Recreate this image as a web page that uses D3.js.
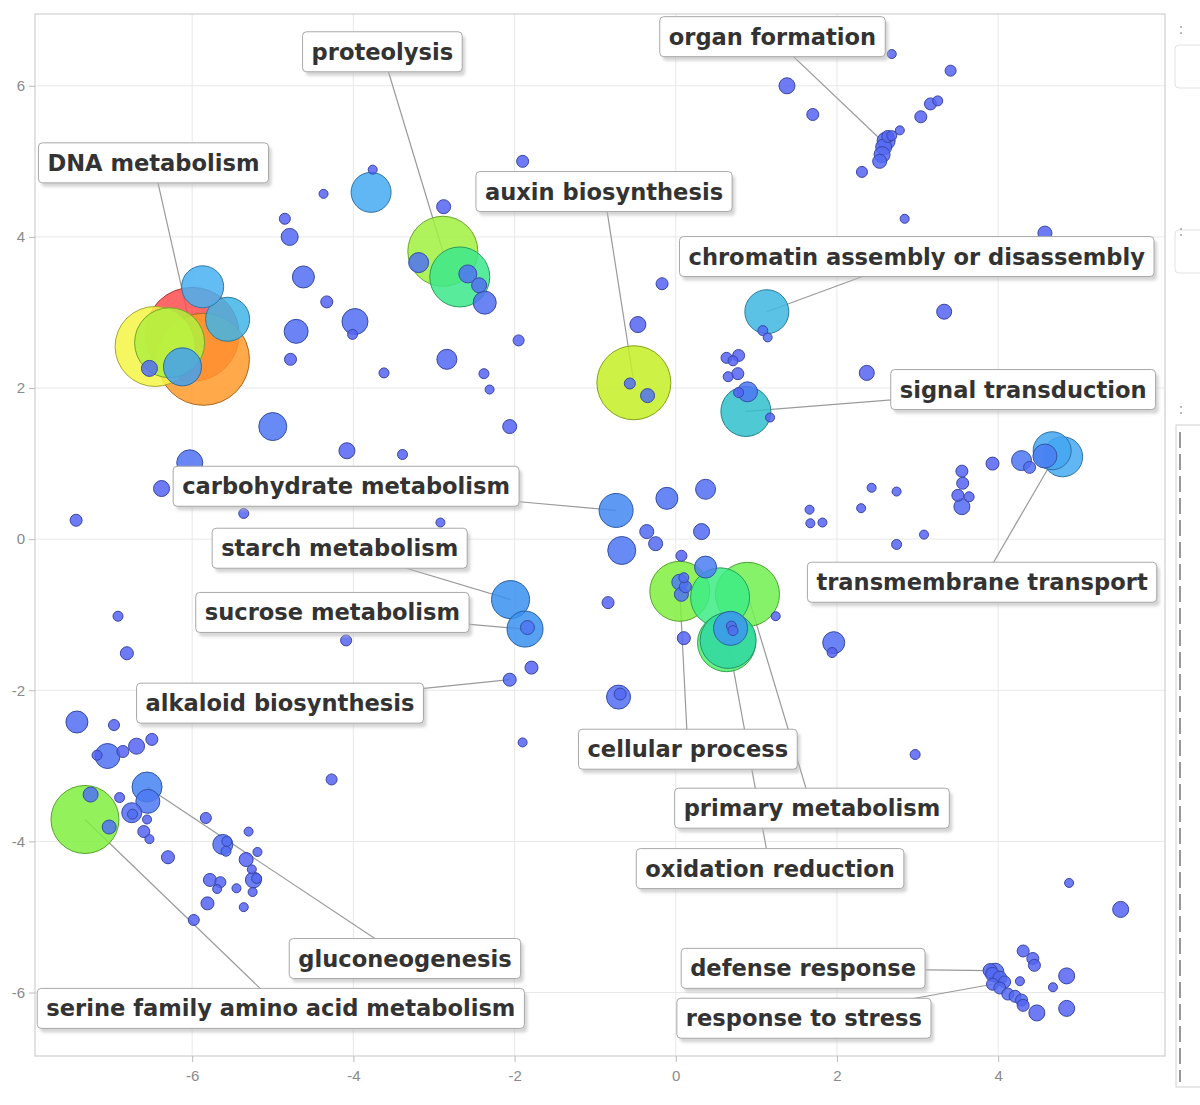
<!DOCTYPE html>
<html><head><meta charset="utf-8">
<script src="https://cdn.jsdelivr.net/npm/d3@7"></script>
<style>body{margin:0;background:#fff}</style>
</head><body>
<svg id="chart" width="1200" height="1105"></svg>
<script>
// ---- data ----
const xTicks = [-6, -4, -2, 0, 2, 4];
const yTicks = [-6, -4, -2, 0, 2, 4, 6];
const xDomain = [-7.95, 6.07];
const yDomain = [-6.84, 6.95];

// [x, y, size, colourValue]
const bubbles = [
  // DNA metabolism cluster
  [-6.00, 2.71, 47, 1], [-5.86, 2.38, 46, 0.93], [-6.46, 2.55, 40, 0.86], [-6.28, 2.60, 35, 0.72],
  [-5.87, 3.34, 21, 0.35], [-5.56, 2.91, 22, 0.37], [-6.12, 2.28, 19, 0.30], [-6.53, 2.26, 8, 0.05],
  // upper left
  [-3.78, 4.59, 20, 0.33], [-3.76, 4.89, 4.5, 0], [-4.37, 4.57, 4.5, 0], [-4.85, 4.24, 5.5, 0],
  [-4.79, 4.00, 8.5, 0.03], [-4.62, 3.47, 11, 0.05], [-4.33, 3.14, 6, 0], [-3.98, 2.88, 13, 0.05],
  [-4.01, 2.71, 5, 0], [-4.71, 2.75, 12, 0.05], [-4.78, 2.38, 6, 0], [-3.62, 2.20, 5, 0],
  [-5.00, 1.49, 14, 0.10], [-4.08, 1.17, 8, 0], [-3.39, 1.12, 5, 0], [-6.03, 1.01, 13, 0.08],
  [-6.38, 0.67, 8, 0], [-5.36, 0.34, 5, 0], [-7.44, 0.25, 6, 0],
  // proteolysis
  [-2.89, 3.81, 35, 0.70], [-2.68, 3.47, 30, 0.56], [-3.19, 3.66, 10, 0.08], [-2.58, 3.51, 9, 0.08],
  [-2.44, 3.36, 7.5, 0.05], [-2.37, 3.13, 11.5, 0.06], [-2.88, 4.40, 7, 0], [-1.90, 5.00, 6, 0],
  // auxin
  [-0.52, 2.07, 37, 0.77], [-0.57, 2.06, 5.5, 0.05], [-0.35, 1.90, 7, 0.08], [-0.47, 2.84, 8, 0],
  [-0.17, 3.38, 6, 0], [-1.95, 2.63, 5.5, 0], [-2.84, 2.38, 10, 0.03], [-2.38, 2.19, 5, 0],
  [-2.31, 1.98, 4.5, 0], [-2.06, 1.49, 7, 0],
  // chromatin / signal
  [1.13, 3.01, 22, 0.38], [1.08, 2.76, 5, 0.05], [1.14, 2.67, 4.5, 0.05],
  [0.87, 1.69, 25, 0.42], [0.89, 1.95, 10, 0.10], [0.78, 1.94, 5, 0], [1.17, 1.61, 4.5, 0],
  [0.63, 2.40, 5.5, 0], [0.71, 2.36, 5, 0], [0.78, 2.43, 6, 0], [0.65, 2.15, 5, 0], [0.77, 2.19, 6, 0],
  // carbohydrate area
  [-0.74, 0.38, 17, 0.20], [-0.11, 0.54, 11, 0.08], [0.37, 0.66, 10, 0.05], [-0.36, 0.10, 7, 0.03],
  [0.32, 0.10, 8, 0.03], [-2.92, 0.22, 4.5, 0], [-0.25, -0.06, 7, 0.03], [-0.67, -0.15, 14, 0.10],
  [0.07, -0.22, 5.5, 0],
  // top right / organ formation
  [2.68, 6.42, 4.5, 0], [3.41, 6.20, 5.5, 0], [1.38, 6.00, 8, 0], [1.70, 5.62, 6, 0],
  [3.25, 5.80, 5, 0], [3.16, 5.76, 6, 0], [3.04, 5.59, 6, 0], [2.78, 5.41, 4.5, 0],
  [2.61, 5.27, 9, 0.03], [2.63, 5.33, 6, 0.03], [2.58, 5.19, 8, 0.03], [2.56, 5.09, 8, 0.03],
  [2.53, 5.00, 7, 0.03], [2.68, 5.34, 5, 0], [2.31, 4.86, 5.5, 0], [2.84, 4.24, 4.5, 0],
  [4.58, 4.05, 7, 0], [3.33, 3.01, 7.5, 0], [2.37, 2.20, 7.5, 0],
  // transmembrane transport
  [4.80, 1.09, 20, 0.33], [4.67, 1.17, 19, 0.32], [4.58, 1.10, 12, 0.15], [4.29, 1.04, 10, 0.10],
  [4.39, 0.95, 6, 0.05], [3.93, 1.00, 6.5, 0], [3.55, 0.90, 6, 0], [3.56, 0.74, 6, 0],
  [3.50, 0.58, 6, 0], [3.64, 0.56, 5, 0], [3.55, 0.43, 8, 0.03], [2.43, 0.68, 4.5, 0],
  [2.74, 0.63, 4.5, 0], [1.66, 0.39, 4.5, 0], [2.30, 0.41, 4.5, 0], [1.67, 0.21, 4.5, 0],
  [1.82, 0.22, 4.5, 0], [3.08, 0.06, 4.5, 0], [2.74, -0.07, 5, 0],
  // primary metabolism cluster
  [0.89, -0.73, 32, 0.64], [0.05, -0.69, 30, 0.66], [0.55, -0.77, 29.5, 0.57], [0.63, -1.37, 29, 0.60],
  [0.65, -1.34, 28, 0.52], [0.68, -1.18, 17, 0.27], [0.69, -1.15, 5, 0.05], [0.71, -1.21, 5, 0.05],
  [0.05, -0.57, 8, 0.15], [0.10, -0.51, 5, 0.05], [0.12, -0.63, 6, 0.05], [0.07, -0.73, 7, 0.08],
  [0.37, -0.37, 11, 0.15], [1.24, -1.02, 4.5, 0], [0.10, -1.31, 6.5, 0], [-0.84, -0.84, 6, 0],
  [-1.79, -1.70, 6.5, 0], [-0.71, -2.09, 12, 0.05], [-0.69, -2.05, 6, 0.03], [-1.90, -2.69, 4.5, 0],
  [1.96, -1.37, 11, 0.05], [1.94, -1.50, 5, 0], [2.97, -2.85, 5, 0], [4.88, -4.55, 4.5, 0],
  [5.52, -4.90, 8, 0],
  // defense response cluster
  [3.90, -5.71, 7, 0.03], [3.93, -5.76, 7, 0.03], [4.02, -5.81, 7, 0.03], [4.08, -5.86, 6, 0.03],
  [3.93, -5.89, 6, 0.03], [4.02, -5.94, 6, 0.03], [4.12, -6.02, 6, 0.03], [4.21, -6.05, 6, 0.03],
  [4.29, -6.10, 6, 0.03], [4.31, -5.45, 6, 0], [4.43, -5.55, 6, 0], [4.45, -5.64, 6, 0],
  [4.27, -5.85, 4.5, 0], [4.68, -5.93, 4.5, 0], [4.85, -5.78, 8, 0], [4.85, -6.21, 8, 0],
  [4.48, -6.27, 8, 0], [4.31, -6.17, 6, 0], [3.96, -5.73, 9, 0.05],
  // lower left
  [-6.92, -1.02, 5, 0], [-6.81, -1.51, 6.5, 0], [-4.09, -1.34, 5.5, 0],
  [-2.05, -0.80, 19, 0.25], [-1.87, -1.19, 18, 0.25], [-1.84, -1.17, 7, 0.10], [-2.06, -1.86, 6.5, 0.03],
  [-7.43, -2.42, 11, 0.05], [-6.97, -2.46, 5.5, 0], [-7.05, -2.87, 12.5, 0.08], [-7.18, -2.86, 5, 0],
  [-6.86, -2.81, 6, 0], [-6.69, -2.74, 8, 0], [-6.50, -2.65, 6, 0],
  [-7.33, -3.71, 34, 0.66], [-7.26, -3.38, 7.5, 0.08], [-7.03, -3.81, 7, 0.08],
  [-6.56, -3.28, 15, 0.18], [-6.55, -3.47, 12, 0.12], [-6.90, -3.42, 5, 0], [-6.75, -3.62, 10, 0.05],
  [-6.74, -3.64, 5, 0.05], [-6.56, -3.71, 4.5, 0], [-6.60, -3.87, 6, 0], [-6.53, -3.97, 4.5, 0],
  [-6.30, -4.21, 6.5, 0], [-5.83, -3.69, 5.5, 0], [-5.30, -3.87, 4.5, 0], [-5.62, -4.04, 10, 0.05],
  [-5.57, -4.00, 5, 0.05], [-5.58, -4.13, 5, 0.05], [-5.19, -4.14, 4.5, 0], [-5.33, -4.24, 7, 0],
  [-5.26, -4.37, 4.5, 0], [-5.24, -4.51, 8, 0.03], [-5.20, -4.49, 5, 0.03], [-5.25, -4.67, 4.5, 0],
  [-5.78, -4.51, 6.5, 0], [-5.65, -4.54, 5.5, 0], [-5.69, -4.63, 4.5, 0], [-5.45, -4.62, 4.5, 0],
  [-5.81, -4.82, 6.5, 0], [-5.36, -4.87, 4.5, 0], [-5.98, -5.04, 5.5, 0], [-4.27, -3.18, 5.5, 0]
];

const labelTexts = ["organ formation", "proteolysis", "DNA metabolism", "auxin biosynthesis",
  "chromatin assembly or disassembly", "signal transduction", "carbohydrate metabolism",
  "starch metabolism", "sucrose metabolism", "transmembrane transport", "alkaloid biosynthesis",
  "cellular process", "primary metabolism", "oxidation reduction", "gluconeogenesis",
  "serine family amino acid metabolism", "defense response", "response to stress"];
const labelPos = [[1.20, 6.65], [-3.64, 6.45], [-6.48, 4.98], [-0.89, 4.60], [2.99, 3.74], [4.31, 1.98],
  [-4.09, 0.70], [-4.17, -0.12], [-4.26, -0.97], [3.80, -0.57], [-4.91, -2.17], [0.15, -2.78],
  [1.69, -3.56], [1.17, -4.36], [-3.36, -5.55], [-4.90, -6.21], [1.58, -5.68], [1.59, -6.34]];
const labelTargets = [[2.61, 5.22], [-2.89, 3.81], [-6.00, 2.71], [-0.52, 2.07], [1.13, 3.01], [0.87, 1.69],
  [-0.74, 0.38], [-2.05, -0.80], [-1.87, -1.19], [4.72, 1.12], [-2.06, -1.86], [0.05, -0.69],
  [0.89, -0.73], [0.65, -1.34], [-6.56, -3.28], [-7.33, -3.71], [3.90, -5.71], [3.93, -5.89]];

const colorStops = [0, 0.15, 0.25, 0.35, 0.42, 0.52, 0.58, 0.66, 0.72, 0.78, 0.86, 0.93, 1];
const colorRange = ["#5564f2", "#4a7ef2", "#3a90f0", "#48b0f2", "#30c0cc", "#30d8a0", "#40f080",
  "#80f040", "#b0f040", "#c8f020", "#f4f445", "#ff9a2a", "#ff4d4d"];

// ---- chart ----
const svg = d3.select("#chart");
const plot = {left: 35, top: 14, right: 1165, bottom: 1056};
const x = d3.scaleLinear().domain(xDomain).range([plot.left, plot.right]);
const y = d3.scaleLinear().domain(yDomain).range([plot.bottom, plot.top]);
const rScale = d3.scaleLinear().domain([0, 50]).range([0, 50]);
const color = d3.scaleLinear().domain(colorStops).range(colorRange);

const defs = svg.append("defs");
const sh = defs.append("filter").attr("id", "shadow").attr("x", "-10%").attr("y", "-30%").attr("width", "130%").attr("height", "180%");
sh.append("feGaussianBlur").attr("stdDeviation", 1.6);

// grid
svg.append("g").selectAll("line").data(xTicks).join("line")
  .attr("x1", d => x(d)).attr("x2", d => x(d)).attr("y1", plot.top).attr("y2", plot.bottom)
  .attr("stroke", "#e8e8e8").attr("stroke-width", 1);
svg.append("g").selectAll("line").data(yTicks).join("line")
  .attr("y1", d => y(d)).attr("y2", d => y(d)).attr("x1", plot.left).attr("x2", plot.right)
  .attr("stroke", "#e8e8e8").attr("stroke-width", 1);

// frame
svg.append("rect").attr("x", plot.left).attr("y", plot.top)
  .attr("width", plot.right - plot.left).attr("height", plot.bottom - plot.top)
  .attr("fill", "none").attr("stroke", "#cfcfcf").attr("stroke-width", 1.2);

// axes
const fmt = d => String(d);
const xAxis = svg.append("g").attr("transform", `translate(0,${plot.bottom})`)
  .call(d3.axisBottom(x).tickValues(xTicks).tickSize(6).tickPadding(8).tickFormat(fmt));
const yAxis = svg.append("g").attr("transform", `translate(${plot.left},0)`)
  .call(d3.axisLeft(y).tickValues(yTicks).tickSize(6).tickPadding(4).tickFormat(fmt));
[xAxis, yAxis].forEach(a => {
  a.select(".domain").remove();
  a.selectAll(".tick line").attr("stroke", "#bbb");
  a.selectAll(".tick text").attr("fill", "#8a8a8a").attr("font-family", "Liberation Sans, Arial, sans-serif")
    .attr("font-size", 15);
});

// leader lines
svg.append("g").selectAll("line").data(labelTexts.map((t, i) => i)).join("line")
  .attr("x1", i => x(labelPos[i][0])).attr("y1", i => y(labelPos[i][1]))
  .attr("x2", i => x(labelTargets[i][0])).attr("y2", i => y(labelTargets[i][1]))
  .attr("stroke", "#9a9a9a").attr("stroke-width", 1.2);

// bubbles
const sorted = bubbles.slice().sort((a, b) => b[2] - a[2]);
svg.append("g").selectAll("circle").data(sorted).join("circle")
  .attr("cx", d => x(d[0])).attr("cy", d => y(d[1])).attr("r", d => rScale(d[2]))
  .attr("fill", d => color(d[3])).attr("fill-opacity", 0.85)
  .attr("stroke", d => d3.color(color(d[3])).darker(1.1)).attr("stroke-width", 1);

// labels
const lg = svg.append("g");
labelTexts.forEach((t, i) => {
  const cx = x(labelPos[i][0]), cy = y(labelPos[i][1]);
  const g = lg.append("g");
  const txt = g.append("text").attr("x", cx).attr("y", cy).attr("text-anchor", "middle")
    .attr("dominant-baseline", "central")
    .attr("font-family", "DejaVu Sans, Verdana, sans-serif").attr("font-weight", "bold")
    .attr("font-size", 22.6).attr("fill", "#333").text(t);
  const w = txt.node().getComputedTextLength() + 18, h = 40;
  g.insert("rect", "text").attr("x", cx - w / 2 + 3).attr("y", cy - h / 2 + 4).attr("width", w).attr("height", h)
    .attr("rx", 4).attr("fill", "#b8b8b8").attr("opacity", 0.6).attr("filter", "url(#shadow)");
  g.insert("rect", "text").attr("x", cx - w / 2).attr("y", cy - h / 2).attr("width", w).attr("height", h)
    .attr("rx", 4).attr("fill", "#fff").attr("stroke", "#a8a8a8").attr("stroke-width", 1);
});

// right-side panel remnants
const side = svg.append("g");
side.append("rect").attr("x", 1175).attr("y", 45).attr("width", 40).attr("height", 43).attr("rx", 4)
  .attr("fill", "none").attr("stroke", "#e2e2e2");
side.append("rect").attr("x", 1175).attr("y", 230).attr("width", 40).attr("height", 43).attr("rx", 4)
  .attr("fill", "none").attr("stroke", "#e2e2e2");
side.append("rect").attr("x", 1176).attr("y", 425).attr("width", 40).attr("height", 662)
  .attr("fill", "none").attr("stroke", "#cfcfcf");
side.append("line").attr("x1", 1180).attr("x2", 1180).attr("y1", 432).attr("y2", 1082)
  .attr("stroke", "#777").attr("stroke-width", 1.5).attr("stroke-dasharray", "16,6");
[30, 232, 410].forEach(v => {
  side.append("circle").attr("cx", 1181).attr("cy", v - 3).attr("r", 0.9).attr("fill", "#999");
  side.append("circle").attr("cx", 1181).attr("cy", v + 3).attr("r", 0.9).attr("fill", "#999");
});
</script>
</body></html>
